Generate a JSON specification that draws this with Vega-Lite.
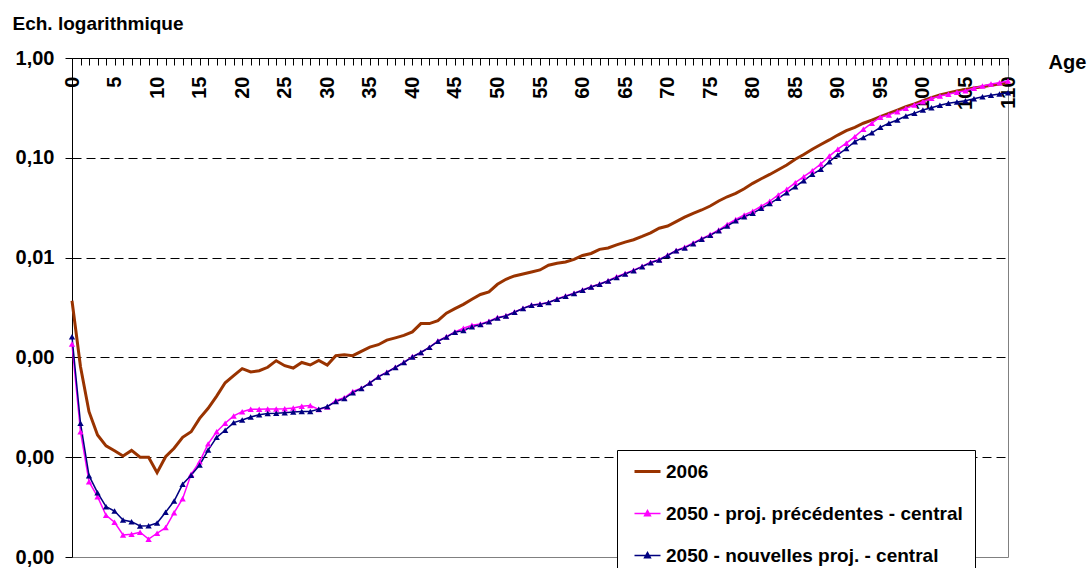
{
"$schema":"https://vega.github.io/schema/vega-lite/v6.json",
"width":936,"height":499,
"autosize":"none",
"padding":{"left":72,"top":58,"right":84,"bottom":11},
"config":{"font":"Liberation Sans","view":{"stroke":"#808080","strokeWidth":1},
"axis":{"labelFont":"Liberation Sans","labelFontWeight":"bold","labelColor":"#000","domainColor":"#000","domainWidth":1,"tickColor":"#000","titleFont":"Liberation Sans","titleFontWeight":"bold","titleColor":"#000"}},
"data":{"values":[
{"age":0,"serie":"2006","taux":0.0037},{"age":1,"serie":"2006","taux":0.000807},{"age":2,"serie":"2006","taux":0.000286},{"age":3,"serie":"2006","taux":0.000167},{"age":4,"serie":"2006","taux":0.00013},{"age":5,"serie":"2006","taux":0.000116},{"age":6,"serie":"2006","taux":0.000103},{"age":7,"serie":"2006","taux":0.000117},{"age":8,"serie":"2006","taux":0.0001},{"age":9,"serie":"2006","taux":0.0001},{"age":10,"serie":"2006","taux":0.00007},{"age":11,"serie":"2006","taux":0.000101},{"age":12,"serie":"2006","taux":0.000123},{"age":13,"serie":"2006","taux":0.000158},{"age":14,"serie":"2006","taux":0.00018},{"age":15,"serie":"2006","taux":0.000245},{"age":16,"serie":"2006","taux":0.000309},{"age":17,"serie":"2006","taux":0.00041},{"age":18,"serie":"2006","taux":0.000557},{"age":19,"serie":"2006","taux":0.000656},{"age":20,"serie":"2006","taux":0.000771},{"age":21,"serie":"2006","taux":0.000714},{"age":22,"serie":"2006","taux":0.000736},{"age":23,"serie":"2006","taux":0.000796},{"age":24,"serie":"2006","taux":0.000927},{"age":25,"serie":"2006","taux":0.000826},{"age":26,"serie":"2006","taux":0.000783},{"age":27,"serie":"2006","taux":0.000889},{"age":28,"serie":"2006","taux":0.000839},{"age":29,"serie":"2006","taux":0.000931},{"age":30,"serie":"2006","taux":0.000839},{"age":31,"serie":"2006","taux":0.00104},{"age":32,"serie":"2006","taux":0.00106},{"age":33,"serie":"2006","taux":0.00104},{"age":34,"serie":"2006","taux":0.00115},{"age":35,"serie":"2006","taux":0.00127},{"age":36,"serie":"2006","taux":0.00134},{"age":37,"serie":"2006","taux":0.00149},{"age":38,"serie":"2006","taux":0.00157},{"age":39,"serie":"2006","taux":0.00166},{"age":40,"serie":"2006","taux":0.0018},{"age":41,"serie":"2006","taux":0.00218},{"age":42,"serie":"2006","taux":0.00218},{"age":43,"serie":"2006","taux":0.00233},{"age":44,"serie":"2006","taux":0.00277},{"age":45,"serie":"2006","taux":0.00308},{"age":46,"serie":"2006","taux":0.0034},{"age":47,"serie":"2006","taux":0.00382},{"age":48,"serie":"2006","taux":0.00427},{"age":49,"serie":"2006","taux":0.00454},{"age":50,"serie":"2006","taux":0.0054},{"age":51,"serie":"2006","taux":0.00607},{"age":52,"serie":"2006","taux":0.00655},{"age":53,"serie":"2006","taux":0.00686},{"age":54,"serie":"2006","taux":0.00718},{"age":55,"serie":"2006","taux":0.00752},{"age":56,"serie":"2006","taux":0.00838},{"age":57,"serie":"2006","taux":0.00877},{"age":58,"serie":"2006","taux":0.00904},{"age":59,"serie":"2006","taux":0.00961},{"age":60,"serie":"2006","taux":0.0105},{"age":61,"serie":"2006","taux":0.011},{"age":62,"serie":"2006","taux":0.0121},{"age":63,"serie":"2006","taux":0.0125},{"age":64,"serie":"2006","taux":0.0134},{"age":65,"serie":"2006","taux":0.0143},{"age":66,"serie":"2006","taux":0.0151},{"age":67,"serie":"2006","taux":0.0163},{"age":68,"serie":"2006","taux":0.0177},{"age":69,"serie":"2006","taux":0.0197},{"age":70,"serie":"2006","taux":0.0207},{"age":71,"serie":"2006","taux":0.0229},{"age":72,"serie":"2006","taux":0.0254},{"age":73,"serie":"2006","taux":0.0278},{"age":74,"serie":"2006","taux":0.03},{"age":75,"serie":"2006","taux":0.0329},{"age":76,"serie":"2006","taux":0.0369},{"age":77,"serie":"2006","taux":0.0407},{"age":78,"serie":"2006","taux":0.0441},{"age":79,"serie":"2006","taux":0.049},{"age":80,"serie":"2006","taux":0.0555},{"age":81,"serie":"2006","taux":0.0617},{"age":82,"serie":"2006","taux":0.0681},{"age":83,"serie":"2006","taux":0.076},{"age":84,"serie":"2006","taux":0.0847},{"age":85,"serie":"2006","taux":0.0966},{"age":86,"serie":"2006","taux":0.108},{"age":87,"serie":"2006","taux":0.122},{"age":88,"serie":"2006","taux":0.136},{"age":89,"serie":"2006","taux":0.151},{"age":90,"serie":"2006","taux":0.169},{"age":91,"serie":"2006","taux":0.187},{"age":92,"serie":"2006","taux":0.202},{"age":93,"serie":"2006","taux":0.222},{"age":94,"serie":"2006","taux":0.239},{"age":95,"serie":"2006","taux":0.258},{"age":96,"serie":"2006","taux":0.279},{"age":97,"serie":"2006","taux":0.301},{"age":98,"serie":"2006","taux":0.325},{"age":99,"serie":"2006","taux":0.346},{"age":100,"serie":"2006","taux":0.373},{"age":101,"serie":"2006","taux":0.4},{"age":102,"serie":"2006","taux":0.426},{"age":103,"serie":"2006","taux":0.446},{"age":104,"serie":"2006","taux":0.467},{"age":105,"serie":"2006","taux":0.485},{"age":106,"serie":"2006","taux":0.5},{"age":107,"serie":"2006","taux":0.515},{"age":108,"serie":"2006","taux":0.532},{"age":109,"serie":"2006","taux":0.548},{"age":110,"serie":"2006","taux":0.566},
{"age":0,"serie":"2050 - proj. précédentes - central","taux":0.00136},{"age":1,"serie":"2050 - proj. précédentes - central","taux":0.00018},{"age":2,"serie":"2050 - proj. précédentes - central","taux":0.0000569},{"age":3,"serie":"2050 - proj. précédentes - central","taux":0.0000402},{"age":4,"serie":"2050 - proj. précédentes - central","taux":0.0000262},{"age":5,"serie":"2050 - proj. précédentes - central","taux":0.0000223},{"age":6,"serie":"2050 - proj. précédentes - central","taux":0.0000166},{"age":7,"serie":"2050 - proj. précédentes - central","taux":0.0000169},{"age":8,"serie":"2050 - proj. précédentes - central","taux":0.0000177},{"age":9,"serie":"2050 - proj. précédentes - central","taux":0.0000151},{"age":10,"serie":"2050 - proj. précédentes - central","taux":0.0000173},{"age":11,"serie":"2050 - proj. précédentes - central","taux":0.0000197},{"age":12,"serie":"2050 - proj. précédentes - central","taux":0.0000278},{"age":13,"serie":"2050 - proj. précédentes - central","taux":0.0000384},{"age":14,"serie":"2050 - proj. précédentes - central","taux":0.0000675},{"age":15,"serie":"2050 - proj. précédentes - central","taux":0.0000902},{"age":16,"serie":"2050 - proj. précédentes - central","taux":0.000136},{"age":17,"serie":"2050 - proj. précédentes - central","taux":0.00018},{"age":18,"serie":"2050 - proj. précédentes - central","taux":0.000219},{"age":19,"serie":"2050 - proj. précédentes - central","taux":0.000259},{"age":20,"serie":"2050 - proj. précédentes - central","taux":0.000286},{"age":21,"serie":"2050 - proj. précédentes - central","taux":0.000302},{"age":22,"serie":"2050 - proj. précédentes - central","taux":0.000302},{"age":23,"serie":"2050 - proj. précédentes - central","taux":0.000304},{"age":24,"serie":"2050 - proj. précédentes - central","taux":0.000304},{"age":25,"serie":"2050 - proj. précédentes - central","taux":0.000306},{"age":26,"serie":"2050 - proj. précédentes - central","taux":0.000311},{"age":27,"serie":"2050 - proj. précédentes - central","taux":0.000324},{"age":28,"serie":"2050 - proj. précédentes - central","taux":0.00033},{"age":29,"serie":"2050 - proj. précédentes - central","taux":0.000301},{"age":30,"serie":"2050 - proj. précédentes - central","taux":0.000318},{"age":31,"serie":"2050 - proj. précédentes - central","taux":0.00037},{"age":32,"serie":"2050 - proj. précédentes - central","taux":0.000394},{"age":33,"serie":"2050 - proj. précédentes - central","taux":0.000455},{"age":34,"serie":"2050 - proj. précédentes - central","taux":0.00049},{"age":35,"serie":"2050 - proj. précédentes - central","taux":0.000557},{"age":36,"serie":"2050 - proj. précédentes - central","taux":0.000641},{"age":37,"serie":"2050 - proj. précédentes - central","taux":0.00071},{"age":38,"serie":"2050 - proj. précédentes - central","taux":0.000796},{"age":39,"serie":"2050 - proj. précédentes - central","taux":0.000893},{"age":40,"serie":"2050 - proj. précédentes - central","taux":0.00102},{"age":41,"serie":"2050 - proj. précédentes - central","taux":0.00112},{"age":42,"serie":"2050 - proj. précédentes - central","taux":0.00126},{"age":43,"serie":"2050 - proj. précédentes - central","taux":0.00146},{"age":44,"serie":"2050 - proj. précédentes - central","taux":0.00161},{"age":45,"serie":"2050 - proj. précédentes - central","taux":0.0018},{"age":46,"serie":"2050 - proj. précédentes - central","taux":0.00196},{"age":47,"serie":"2050 - proj. précédentes - central","taux":0.0021},{"age":48,"serie":"2050 - proj. précédentes - central","taux":0.00216},{"age":49,"serie":"2050 - proj. précédentes - central","taux":0.0023},{"age":50,"serie":"2050 - proj. précédentes - central","taux":0.00251},{"age":51,"serie":"2050 - proj. précédentes - central","taux":0.00262},{"age":52,"serie":"2050 - proj. précédentes - central","taux":0.00285},{"age":53,"serie":"2050 - proj. précédentes - central","taux":0.0031},{"age":54,"serie":"2050 - proj. précédentes - central","taux":0.00335},{"age":55,"serie":"2050 - proj. précédentes - central","taux":0.00343},{"age":56,"serie":"2050 - proj. précédentes - central","taux":0.00356},{"age":57,"serie":"2050 - proj. précédentes - central","taux":0.00385},{"age":58,"serie":"2050 - proj. précédentes - central","taux":0.00412},{"age":59,"serie":"2050 - proj. précédentes - central","taux":0.00439},{"age":60,"serie":"2050 - proj. précédentes - central","taux":0.00473},{"age":61,"serie":"2050 - proj. précédentes - central","taux":0.00511},{"age":62,"serie":"2050 - proj. précédentes - central","taux":0.00543},{"age":63,"serie":"2050 - proj. précédentes - central","taux":0.00587},{"age":64,"serie":"2050 - proj. précédentes - central","taux":0.00644},{"age":65,"serie":"2050 - proj. précédentes - central","taux":0.00693},{"age":66,"serie":"2050 - proj. précédentes - central","taux":0.00746},{"age":67,"serie":"2050 - proj. précédentes - central","taux":0.00818},{"age":68,"serie":"2050 - proj. précédentes - central","taux":0.00897},{"age":69,"serie":"2050 - proj. précédentes - central","taux":0.00957},{"age":70,"serie":"2050 - proj. précédentes - central","taux":0.0106},{"age":71,"serie":"2050 - proj. précédentes - central","taux":0.0118},{"age":72,"serie":"2050 - proj. précédentes - central","taux":0.0127},{"age":73,"serie":"2050 - proj. précédentes - central","taux":0.014},{"age":74,"serie":"2050 - proj. précédentes - central","taux":0.0155},{"age":75,"serie":"2050 - proj. précédentes - central","taux":0.017},{"age":76,"serie":"2050 - proj. précédentes - central","taux":0.0189},{"age":77,"serie":"2050 - proj. précédentes - central","taux":0.0215},{"age":78,"serie":"2050 - proj. précédentes - central","taux":0.0241},{"age":79,"serie":"2050 - proj. précédentes - central","taux":0.0267},{"age":80,"serie":"2050 - proj. précédentes - central","taux":0.0292},{"age":81,"serie":"2050 - proj. précédentes - central","taux":0.0327},{"age":82,"serie":"2050 - proj. précédentes - central","taux":0.0367},{"age":83,"serie":"2050 - proj. précédentes - central","taux":0.0424},{"age":84,"serie":"2050 - proj. précédentes - central","taux":0.0483},{"age":85,"serie":"2050 - proj. précédentes - central","taux":0.0564},{"age":86,"serie":"2050 - proj. précédentes - central","taux":0.0647},{"age":87,"serie":"2050 - proj. précédentes - central","taux":0.0743},{"age":88,"serie":"2050 - proj. précédentes - central","taux":0.0867},{"age":89,"serie":"2050 - proj. précédentes - central","taux":0.104},{"age":90,"serie":"2050 - proj. précédentes - central","taux":0.122},{"age":91,"serie":"2050 - proj. précédentes - central","taux":0.14},{"age":92,"serie":"2050 - proj. précédentes - central","taux":0.163},{"age":93,"serie":"2050 - proj. précédentes - central","taux":0.193},{"age":94,"serie":"2050 - proj. précédentes - central","taux":0.222},{"age":95,"serie":"2050 - proj. précédentes - central","taux":0.255},{"age":96,"serie":"2050 - proj. précédentes - central","taux":0.269},{"age":97,"serie":"2050 - proj. précédentes - central","taux":0.29},{"age":98,"serie":"2050 - proj. précédentes - central","taux":0.313},{"age":99,"serie":"2050 - proj. précédentes - central","taux":0.338},{"age":100,"serie":"2050 - proj. précédentes - central","taux":0.365},{"age":101,"serie":"2050 - proj. précédentes - central","taux":0.394},{"age":102,"serie":"2050 - proj. précédentes - central","taux":0.416},{"age":103,"serie":"2050 - proj. précédentes - central","taux":0.433},{"age":104,"serie":"2050 - proj. précédentes - central","taux":0.453},{"age":105,"serie":"2050 - proj. précédentes - central","taux":0.47},{"age":106,"serie":"2050 - proj. précédentes - central","taux":0.497},{"age":107,"serie":"2050 - proj. précédentes - central","taux":0.524},{"age":108,"serie":"2050 - proj. précédentes - central","taux":0.548},{"age":109,"serie":"2050 - proj. précédentes - central","taux":0.566},{"age":110,"serie":"2050 - proj. précédentes - central","taux":0.589},
{"age":0,"serie":"2050 - nouvelles proj. - central","taux":0.00161},{"age":1,"serie":"2050 - nouvelles proj. - central","taux":0.000219},{"age":2,"serie":"2050 - nouvelles proj. - central","taux":0.0000653},{"age":3,"serie":"2050 - nouvelles proj. - central","taux":0.0000441},{"age":4,"serie":"2050 - nouvelles proj. - central","taux":0.0000319},{"age":5,"serie":"2050 - nouvelles proj. - central","taux":0.0000289},{"age":6,"serie":"2050 - nouvelles proj. - central","taux":0.0000235},{"age":7,"serie":"2050 - nouvelles proj. - central","taux":0.0000226},{"age":8,"serie":"2050 - nouvelles proj. - central","taux":0.0000205},{"age":9,"serie":"2050 - nouvelles proj. - central","taux":0.0000206},{"age":10,"serie":"2050 - nouvelles proj. - central","taux":0.0000219},{"age":11,"serie":"2050 - nouvelles proj. - central","taux":0.0000281},{"age":12,"serie":"2050 - nouvelles proj. - central","taux":0.0000364},{"age":13,"serie":"2050 - nouvelles proj. - central","taux":0.0000535},{"age":14,"serie":"2050 - nouvelles proj. - central","taux":0.0000659},{"age":15,"serie":"2050 - nouvelles proj. - central","taux":0.0000836},{"age":16,"serie":"2050 - nouvelles proj. - central","taux":0.000118},{"age":17,"serie":"2050 - nouvelles proj. - central","taux":0.000158},{"age":18,"serie":"2050 - nouvelles proj. - central","taux":0.000186},{"age":19,"serie":"2050 - nouvelles proj. - central","taux":0.000222},{"age":20,"serie":"2050 - nouvelles proj. - central","taux":0.000236},{"age":21,"serie":"2050 - nouvelles proj. - central","taux":0.000253},{"age":22,"serie":"2050 - nouvelles proj. - central","taux":0.000266},{"age":23,"serie":"2050 - nouvelles proj. - central","taux":0.000274},{"age":24,"serie":"2050 - nouvelles proj. - central","taux":0.000275},{"age":25,"serie":"2050 - nouvelles proj. - central","taux":0.000279},{"age":26,"serie":"2050 - nouvelles proj. - central","taux":0.000284},{"age":27,"serie":"2050 - nouvelles proj. - central","taux":0.000287},{"age":28,"serie":"2050 - nouvelles proj. - central","taux":0.000287},{"age":29,"serie":"2050 - nouvelles proj. - central","taux":0.000303},{"age":30,"serie":"2050 - nouvelles proj. - central","taux":0.000322},{"age":31,"serie":"2050 - nouvelles proj. - central","taux":0.000361},{"age":32,"serie":"2050 - nouvelles proj. - central","taux":0.000387},{"age":33,"serie":"2050 - nouvelles proj. - central","taux":0.000443},{"age":34,"serie":"2050 - nouvelles proj. - central","taux":0.000488},{"age":35,"serie":"2050 - nouvelles proj. - central","taux":0.000553},{"age":36,"serie":"2050 - nouvelles proj. - central","taux":0.000637},{"age":37,"serie":"2050 - nouvelles proj. - central","taux":0.000707},{"age":38,"serie":"2050 - nouvelles proj. - central","taux":0.000792},{"age":39,"serie":"2050 - nouvelles proj. - central","taux":0.000889},{"age":40,"serie":"2050 - nouvelles proj. - central","taux":0.00101},{"age":41,"serie":"2050 - nouvelles proj. - central","taux":0.00112},{"age":42,"serie":"2050 - nouvelles proj. - central","taux":0.00126},{"age":43,"serie":"2050 - nouvelles proj. - central","taux":0.00145},{"age":44,"serie":"2050 - nouvelles proj. - central","taux":0.0016},{"age":45,"serie":"2050 - nouvelles proj. - central","taux":0.00179},{"age":46,"serie":"2050 - nouvelles proj. - central","taux":0.00186},{"age":47,"serie":"2050 - nouvelles proj. - central","taux":0.00203},{"age":48,"serie":"2050 - nouvelles proj. - central","taux":0.00213},{"age":49,"serie":"2050 - nouvelles proj. - central","taux":0.00228},{"age":50,"serie":"2050 - nouvelles proj. - central","taux":0.00248},{"age":51,"serie":"2050 - nouvelles proj. - central","taux":0.0026},{"age":52,"serie":"2050 - nouvelles proj. - central","taux":0.00283},{"age":53,"serie":"2050 - nouvelles proj. - central","taux":0.00309},{"age":54,"serie":"2050 - nouvelles proj. - central","taux":0.00333},{"age":55,"serie":"2050 - nouvelles proj. - central","taux":0.0034},{"age":56,"serie":"2050 - nouvelles proj. - central","taux":0.00355},{"age":57,"serie":"2050 - nouvelles proj. - central","taux":0.00382},{"age":58,"serie":"2050 - nouvelles proj. - central","taux":0.00409},{"age":59,"serie":"2050 - nouvelles proj. - central","taux":0.00437},{"age":60,"serie":"2050 - nouvelles proj. - central","taux":0.0047},{"age":61,"serie":"2050 - nouvelles proj. - central","taux":0.00507},{"age":62,"serie":"2050 - nouvelles proj. - central","taux":0.0054},{"age":63,"serie":"2050 - nouvelles proj. - central","taux":0.00583},{"age":64,"serie":"2050 - nouvelles proj. - central","taux":0.00632},{"age":65,"serie":"2050 - nouvelles proj. - central","taux":0.00686},{"age":66,"serie":"2050 - nouvelles proj. - central","taux":0.0074},{"age":67,"serie":"2050 - nouvelles proj. - central","taux":0.00811},{"age":68,"serie":"2050 - nouvelles proj. - central","taux":0.00889},{"age":69,"serie":"2050 - nouvelles proj. - central","taux":0.00946},{"age":70,"serie":"2050 - nouvelles proj. - central","taux":0.0105},{"age":71,"serie":"2050 - nouvelles proj. - central","taux":0.0117},{"age":72,"serie":"2050 - nouvelles proj. - central","taux":0.0125},{"age":73,"serie":"2050 - nouvelles proj. - central","taux":0.0138},{"age":74,"serie":"2050 - nouvelles proj. - central","taux":0.0153},{"age":75,"serie":"2050 - nouvelles proj. - central","taux":0.0167},{"age":76,"serie":"2050 - nouvelles proj. - central","taux":0.0186},{"age":77,"serie":"2050 - nouvelles proj. - central","taux":0.0207},{"age":78,"serie":"2050 - nouvelles proj. - central","taux":0.0234},{"age":79,"serie":"2050 - nouvelles proj. - central","taux":0.0257},{"age":80,"serie":"2050 - nouvelles proj. - central","taux":0.0278},{"age":81,"serie":"2050 - nouvelles proj. - central","taux":0.0312},{"age":82,"serie":"2050 - nouvelles proj. - central","taux":0.0348},{"age":83,"serie":"2050 - nouvelles proj. - central","taux":0.0393},{"age":84,"serie":"2050 - nouvelles proj. - central","taux":0.0447},{"age":85,"serie":"2050 - nouvelles proj. - central","taux":0.0513},{"age":86,"serie":"2050 - nouvelles proj. - central","taux":0.059},{"age":87,"serie":"2050 - nouvelles proj. - central","taux":0.0684},{"age":88,"serie":"2050 - nouvelles proj. - central","taux":0.0767},{"age":89,"serie":"2050 - nouvelles proj. - central","taux":0.0914},{"age":90,"serie":"2050 - nouvelles proj. - central","taux":0.107},{"age":91,"serie":"2050 - nouvelles proj. - central","taux":0.124},{"age":92,"serie":"2050 - nouvelles proj. - central","taux":0.145},{"age":93,"serie":"2050 - nouvelles proj. - central","taux":0.16},{"age":94,"serie":"2050 - nouvelles proj. - central","taux":0.178},{"age":95,"serie":"2050 - nouvelles proj. - central","taux":0.202},{"age":96,"serie":"2050 - nouvelles proj. - central","taux":0.222},{"age":97,"serie":"2050 - nouvelles proj. - central","taux":0.239},{"age":98,"serie":"2050 - nouvelles proj. - central","taux":0.262},{"age":99,"serie":"2050 - nouvelles proj. - central","taux":0.279},{"age":100,"serie":"2050 - nouvelles proj. - central","taux":0.301},{"age":101,"serie":"2050 - nouvelles proj. - central","taux":0.318},{"age":102,"serie":"2050 - nouvelles proj. - central","taux":0.336},{"age":103,"serie":"2050 - nouvelles proj. - central","taux":0.352},{"age":104,"serie":"2050 - nouvelles proj. - central","taux":0.362},{"age":105,"serie":"2050 - nouvelles proj. - central","taux":0.373},{"age":106,"serie":"2050 - nouvelles proj. - central","taux":0.391},{"age":107,"serie":"2050 - nouvelles proj. - central","taux":0.409},{"age":108,"serie":"2050 - nouvelles proj. - central","taux":0.423},{"age":109,"serie":"2050 - nouvelles proj. - central","taux":0.436},{"age":110,"serie":"2050 - nouvelles proj. - central","taux":0.449}
]},
"encoding":{
"x":{"field":"age","type":"quantitative","scale":{"domain":[0,110],"nice":false,"zero":false},
"axis":{"orient":"bottom","offset":-499,"values":[0,1,2,3,4,5,6,7,8,9,10,11,12,13,14,15,16,17,18,19,20,21,22,23,24,25,26,27,28,29,30,31,32,33,34,35,36,37,38,39,40,41,42,43,44,45,46,47,48,49,50,51,52,53,54,55,56,57,58,59,60,61,62,63,64,65,66,67,68,69,70,71,72,73,74,75,76,77,78,79,80,81,82,83,84,85,86,87,88,89,90,91,92,93,94,95,96,97,98,99,100,101,102,103,104,105,106,107,108,109,110],
"labelExpr":"datum.value % 5 === 0 ? datum.label : ''","labelAngle":-90,"labelFontSize":20,"tickSize":7,"labelPadding":11,"labelOverlap":false,"labelFlush":false,"labelBound":false,"grid":false,
"title":"Age","titleX":976,"titleY":10,"titleAlign":"left","titleBaseline":"alphabetic","titleFontSize":20}},
"y":{"field":"taux","type":"quantitative","scale":{"type":"log","domain":[0.00001,1],"nice":false},
"axis":{"values":[0.00001,0.0001,0.001,0.01,0.1,1],"labelExpr":"replace(format(datum.value,'.2f'),'.',',')","labelFontSize":20,"tickSize":7,"labelPadding":11,
"grid":true,"gridColor":"#000","gridDash":[9,5],"gridWidth":1,"gridOpacity":{"condition":{"test":"datum.value < 0.00005 || datum.value > 0.5","value":0},"value":1},
"title":"Ech. logarithmique","titleAngle":0,"titleAlign":"left","titleBaseline":"alphabetic","titleX":-60,"titleY":-29,"titleFontSize":19}}
},
"layer":[
{"mark":{"type":"line"},
"encoding":{
"color":{"field":"serie","type":"nominal","scale":{"domain":["2006","2050 - proj. précédentes - central","2050 - nouvelles proj. - central"],"range":["#993300","#FF00FF","#000080"]},
"legend":{"orient":"none","legendX":545,"legendY":392,"title":null,"padding":12,"fillColor":"#fff","strokeColor":"#000","labelFont":"Liberation Sans","labelFontSize":19,"labelFontWeight":"bold","labelColor":"#000","symbolSize":676,"symbolOffset":9,"labelOffset":9,"rowPadding":22,"labelLimit":0,
"encode":{"symbols":{"update":{"shape":{"signal":"datum.value === '2006' ? 'M-1,0H1' : 'M-1,0H1M-0.22,0.17L0,-0.22L0.22,0.17Z'"},"strokeWidth":{"signal":"datum.value === '2006' ? 3 : 1.5"},"fill":{"signal":"datum.value === '2006' ? 'transparent' : scale('color', datum.value)"}}}}}},
"strokeWidth":{"condition":{"test":"datum.serie === '2006'","value":3},"value":1.5}}},
{"transform":[{"filter":"datum.serie === '2050 - proj. précédentes - central'"}],
"mark":{"type":"point","shape":"triangle-up","filled":true,"color":"#FF00FF","size":40,"opacity":1}},
{"transform":[{"filter":"datum.serie === '2050 - nouvelles proj. - central'"}],
"mark":{"type":"point","shape":"triangle-up","filled":true,"color":"#000080","size":40,"opacity":1}}
]
}
